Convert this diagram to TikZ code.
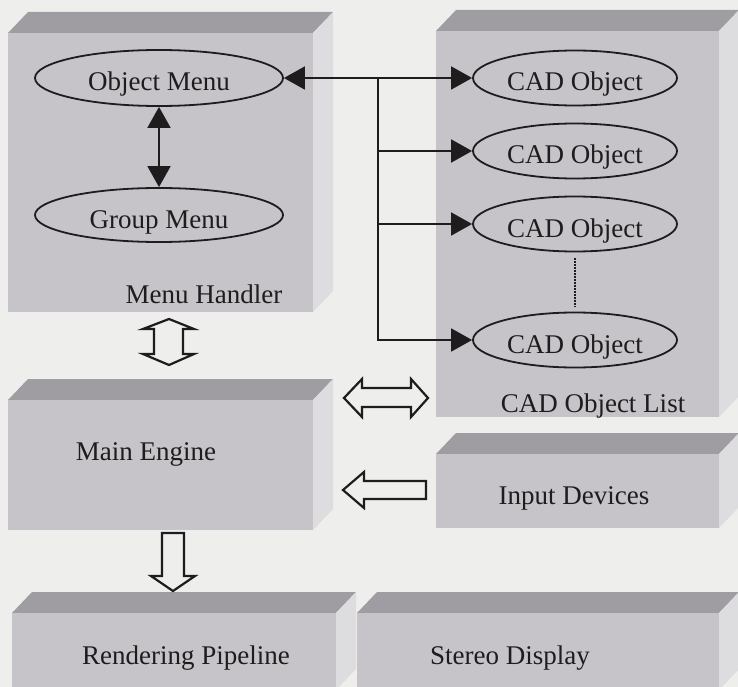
\documentclass[tikz,border=0pt]{standalone}
\usepackage{fontspec}
\setmainfont{Liberation Serif}
\usepackage{tikz}
\usetikzlibrary{shapes.geometric, arrows.meta}
\definecolor{paper}{RGB}{238, 238, 236}
\definecolor{face}{RGB}{198, 196, 200}
\definecolor{roof}{RGB}{160, 157, 162}
\definecolor{wall}{RGB}{221, 220, 223}
\definecolor{ink}{RGB}{30, 28, 28}

\begin{document}
\begin{tikzpicture}[x=1pt, y=-1pt,
    every node/.style={font=\fontsize{27}{30}\selectfont, text=ink, text height=19pt, text depth=0pt},
    oval/.style={ellipse, draw=ink, line width=1.8, inner sep=0pt, text height=26pt},
    conn/.style={draw=ink, line width=1.8, >={Triangle[length=21pt, width=23pt]}},
    hollow/.style={draw=ink, fill=paper, line width=2.2, line join=miter}]

  \fill[paper] (0, 0) rectangle (738, 687);
  \clip (0, 0) rectangle (738, 687);

  % boxes: front face is the node, roof and wall drawn round it
  \foreach \nm/\xa/\ya/\xb/\yb in {menu/8/33/313/312, objlist/436/31/719/417,
                                   engine/8/400/313/530, input/436/454/719/528,
                                   render/12/613/336/690, stereo/357/613/719/690} {
    \fill[roof] (\xa, \ya) -- (\xa + 20, \ya - 21) -- (\xb + 20, \ya - 21) -- (\xb, \ya) -- cycle;
    \fill[wall] (\xb, \ya) -- (\xb + 20, \ya - 21) -- (\xb + 20, \yb - 21) -- (\xb, \yb) -- cycle;
    \node[fill=face, inner sep=0, outer sep=0, anchor=north west, text height=0pt,
          minimum width={(\xb - \xa) * 1pt}, minimum height={(\yb - \ya) * 1pt}] (\nm) at (\xa, \ya) {};
  }

  \node (menutext)   at (204, 294) {Menu Handler};
  \node (listtext)   at (593, 403) {CAD Object List};
  \node (enginetext) at (146, 451) {Main Engine};
  \node (inputtext)  at (574, 495) {Input Devices};
  \node (rendertext) at (186, 655) {Rendering Pipeline};
  \node (stereotext) at (510, 655) {Stereo Display};

  \node[oval, minimum width=248, minimum height=56] (objmenu) at (159, 78) {Object Menu};
  \node[oval, minimum width=248, minimum height=54] (grpmenu) at (159, 215) {Group Menu};
  \foreach \y [count=\n] in {78, 151, 224, 340}
    \node[oval, minimum width=204, minimum height=55] (cad\n) at (575, \y) {CAD Object};

  \draw[conn, <->] (objmenu) -- (grpmenu);
  \draw[conn, <->] (objmenu) -- (cad1);
  \coordinate (bus) at (378, 78);
  \foreach \n in {2, 3, 4}
    \draw[conn, ->] (bus) |- (cad\n);
  \draw[ink, line width=1.6, dash pattern=on 1.6pt off 1.4pt, shorten <=6pt, shorten >=5pt] (cad3) -- (cad4);

  % hollow arrows between the boxes
  \draw[hollow] (169, 319) -- (194, 329) -- (183, 329) -- (183, 354) -- (194, 354) -- (169, 365)
    -- (143, 354) -- (154, 354) -- (154, 329) -- (143, 329) -- cycle;
  \draw[hollow] (344, 398) -- (362, 379) -- (362, 388) -- (411, 388) -- (411, 379) -- (428, 398)
    -- (411, 417) -- (411, 407) -- (362, 407) -- (362, 417) -- cycle;
  \draw[hollow] (343, 490) -- (364, 472) -- (364, 481) -- (426, 481) -- (426, 499) -- (364, 499)
    -- (364, 508) -- cycle;
  \draw[hollow] (162, 533) -- (184, 533) -- (184, 576) -- (195, 576) -- (173, 591) -- (151, 576)
    -- (162, 576) -- cycle;

\end{tikzpicture}
\end{document}
